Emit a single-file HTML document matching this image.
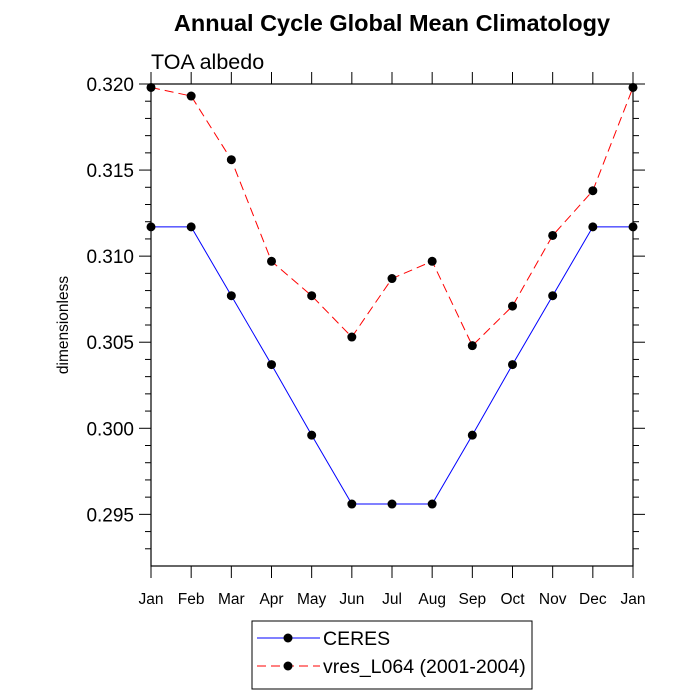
<!DOCTYPE html>
<html><head><meta charset="utf-8"><style>body{margin:0;background:#fff}svg{display:block;font-family:"Liberation Sans",sans-serif}</style></head>
<body>
<svg id="chart" width="700" height="700">
<text x="392" y="31" text-anchor="middle" font-size="23.5" font-weight="bold">Annual Cycle Global Mean Climatology</text>
<text x="151" y="69" font-size="21.5">TOA albedo</text>
<text transform="translate(68,325) rotate(-90)" text-anchor="middle" font-size="15.5">dimensionless</text>
<g id="axes"></g>
<g id="series"></g>
<g id="legend">
<rect x="252" y="621" width="280" height="68" fill="#fff" stroke="#000" stroke-width="1"/>
<line x1="257" y1="638" x2="320" y2="638" stroke="#0000ff" stroke-width="1"/>
<circle cx="288" cy="638" r="4.5" fill="#000"/>
<text x="323" y="645" font-size="19.5">CERES</text>
<line x1="257" y1="666" x2="320" y2="666" stroke="#ff0000" stroke-width="1" stroke-dasharray="9,5"/>
<circle cx="288" cy="666" r="4.5" fill="#000"/>
<text x="323" y="673" font-size="19.5">vres_L064 (2001-2004)</text>
</g>
</svg>
<script>
const months = ["Jan","Feb","Mar","Apr","May","Jun","Jul","Aug","Sep","Oct","Nov","Dec","Jan"];
const ceres = [0.3117,0.3117,0.3077,0.3037,0.2996,0.2956,0.2956,0.2956,0.2996,0.3037,0.3077,0.3117,0.3117];
const vres = [0.3198,0.3193,0.3156,0.3097,0.3077,0.3053,0.3087,0.3097,0.3048,0.3071,0.3112,0.3138,0.3198];
const yTicks = [0.295,0.300,0.305,0.310,0.315,0.320];
const yTickLabels = ["0.295","0.300","0.305","0.310","0.315","0.320"];
const L=151,R=633,T=84,B=566,YMIN=0.292,YMAX=0.320;
const xs=i=>L+(R-L)*i/(months.length-1);
const ys=v=>B-(v-YMIN)/(YMAX-YMIN)*(B-T);
const NS="http://www.w3.org/2000/svg";
function mk(tag,attrs,parent){const e=document.createElementNS(NS,tag);for(const k in attrs)e.setAttribute(k,attrs[k]);parent.appendChild(e);return e;}
const ax=document.getElementById('axes');
const frame=mk('rect',{x:L,y:T,width:R-L,height:B-T,fill:'none',stroke:'#000','stroke-width':1.2},ax);


for(let v=0.293;v<=0.3201;v+=0.001){const y=ys(v);const major=Math.abs(v*200-Math.round(v*200))<1e-6;const len=major?12:6;
mk('line',{x1:L,y1:y,x2:L-len,y2:y,stroke:'#000'},ax);mk('line',{x1:R,y1:y,x2:R+len,y2:y,stroke:'#000'},ax);}
yTicks.forEach((v,i)=>{const t=mk('text',{x:L-17,y:ys(v)+7,'text-anchor':'end','font-size':19},ax);t.textContent=yTickLabels[i];

});
months.forEach((m,i)=>{const x=xs(i);mk('line',{x1:x,y1:B,x2:x,y2:B+12,stroke:'#000'},ax);mk('line',{x1:x,y1:T,x2:x,y2:T-12,stroke:'#000'},ax);
const t=mk('text',{x:x,y:B+38,'text-anchor':'middle','font-size':15.5},ax);t.textContent=m;

});
const sg=document.getElementById('series');
function draw(vals,color,dash,name){const p=mk('polyline',{points:vals.map((v,i)=>xs(i)+','+ys(v)).join(' '),fill:'none',stroke:color,'stroke-width':1,'stroke-dasharray':dash},sg);


vals.forEach((v,i)=>{const c=mk('circle',{cx:xs(i),cy:ys(v),r:4.5,fill:'#000'},sg);

});}
draw(ceres,'#0000ff','none','ceres');
draw(vres,'#ff0000','9,5','vres');
</script>
</body></html>
